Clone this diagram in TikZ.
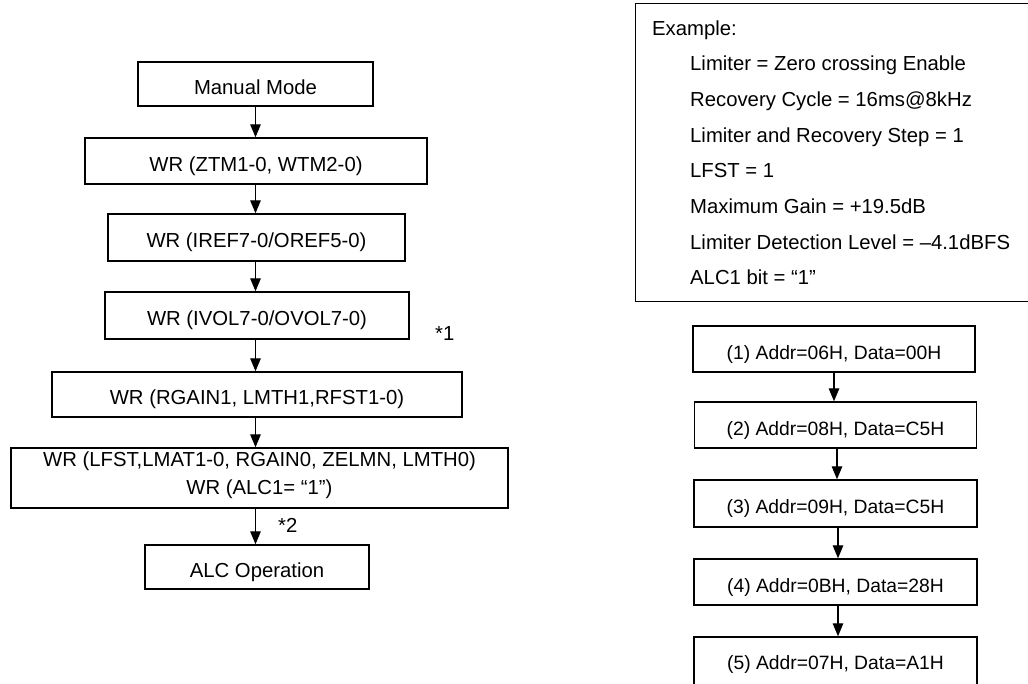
\documentclass[tikz,border=0pt]{standalone}
\usepackage{fontspec}
\setmainfont{Liberation Sans}
\usetikzlibrary{arrows.meta}
\tikzset{
  lbox/.style={draw,line width=1.4pt,inner sep=0pt,font=\fontsize{20.3}{24}\selectfont,text height=20.5pt,text depth=0pt},
  rbox/.style={draw,line width=1.4pt,inner sep=0pt,font=\fontsize{19.3}{23}\selectfont,text height=20.8pt,text depth=0pt},
  flow/.style={-{Triangle[length=13pt,width=10.5pt]},line width=1.3pt},
  txt/.style={inner sep=0pt,font=\fontsize{20.3}{24}\selectfont,anchor=base west},
  ctxt/.style={inner sep=0pt,font=\fontsize{20.3}{24}\selectfont,anchor=base}
}
\begin{document}
\begin{tikzpicture}[x=1pt,y=-1pt]
\useasboundingbox (0,0) rectangle (1028,683);
\clip (0,0) rectangle (1028,683);
\fill[white] (0,0) rectangle (1028,683);

% left flow
\node[lbox,minimum width=235pt,minimum height=44pt] (b1) at (255.5,84) {Manual Mode};
\node[lbox,minimum width=342pt,minimum height=46pt] (b2) at (256,161) {WR (ZTM1-0, WTM2-0)};
\node[lbox,minimum width=297pt,minimum height=47pt] (b3) at (256.5,237.5) {WR (IREF7-0/OREF5-0)};
\node[lbox,minimum width=304pt,minimum height=47pt] (b4) at (257,315.5) {WR (IVOL7-0/OVOL7-0)};
\node[lbox,minimum width=410pt,minimum height=45pt] (b5) at (257,394.5) {WR (RGAIN1, LMTH1,RFST1-0)};
\node[draw,line width=1.4pt,inner sep=0pt,minimum width=497pt,minimum height=60pt] (b6) at (259.5,478) {};
\node[ctxt] (b6a) at (259.5,466.3) {WR (LFST,LMAT1-0, RGAIN0, ZELMN, LMTH0)};
\node[ctxt] (b6b) at (259.5,494.3) {WR (ALC1= “1”)};
\node[lbox,minimum width=224pt,minimum height=44pt] (b7) at (257,567) {ALC Operation};

\draw[flow] (b1.south) -- (b1.south |- b2.north);
\draw[flow] (b2.south -| b1.south) -- (b3.north -| b1.south);
\draw[flow] (b3.south -| b1.south) -- (b4.north -| b1.south);
\draw[flow] (b4.south -| b1.south) -- (b5.north -| b1.south);
\draw[flow] (b5.south -| b1.south) -- (b6.north -| b1.south);
\draw[flow] (b6.south -| b1.south) -- (b7.north -| b1.south);

\node[txt] (s1) at (435,340) {*1};
\node[txt] (s2) at (278,532.7) {*2};

% example box
\node[draw,line width=1.4pt,inner sep=0pt,anchor=north west,minimum width=420pt,minimum height=298pt] (ex) at (635,3) {};
\node[txt] (e0) at (652,35) {Example:};
\node[txt] (e1) at (690,70.7) {Limiter = Zero crossing Enable};
\node[txt] (e2) at (690,106.4) {Recovery Cycle = 16ms@8kHz};
\node[txt] (e3) at (690,142.1) {Limiter and Recovery Step = 1};
\node[txt] (e4) at (690,177.8) {LFST = 1};
\node[txt] (e5) at (690,213.5) {Maximum Gain = +19.5dB};
\node[txt] (e6) at (690,249.2) {Limiter Detection Level = –4.1dBFS};
\node[txt] (e7) at (690,284.9) {ALC1 bit = “1”};

% right flow
\node[rbox,minimum width=282pt,minimum height=46pt] (r1) at (834,349) {(1) Addr=06H, Data=00H};
\node[rbox,minimum width=282pt,minimum height=46pt] (r2) at (835.5,425) {(2) Addr=08H, Data=C5H};
\node[rbox,minimum width=283pt,minimum height=47pt] (r3) at (835.5,503.5) {(3) Addr=09H, Data=C5H};
\node[rbox,minimum width=283pt,minimum height=46pt] (r4) at (835.5,582) {(4) Addr=0BH, Data=28H};
\node[rbox,minimum width=283pt,minimum height=52pt,text height=13.8pt] (r5) at (835.5,663) {(5) Addr=07H, Data=A1H};

\draw[flow] (r1.south) -- (r1.south |- r2.north);
\draw[flow] ([xshift=1.5pt]r2.south) -- ([xshift=1.5pt]r3.north);
\draw[flow] ([xshift=2.5pt]r3.south) -- ([xshift=2.5pt]r4.north);
\draw[flow] ([xshift=2.5pt]r4.south) -- ([xshift=2.5pt]r5.north);
\end{tikzpicture}
\end{document}
